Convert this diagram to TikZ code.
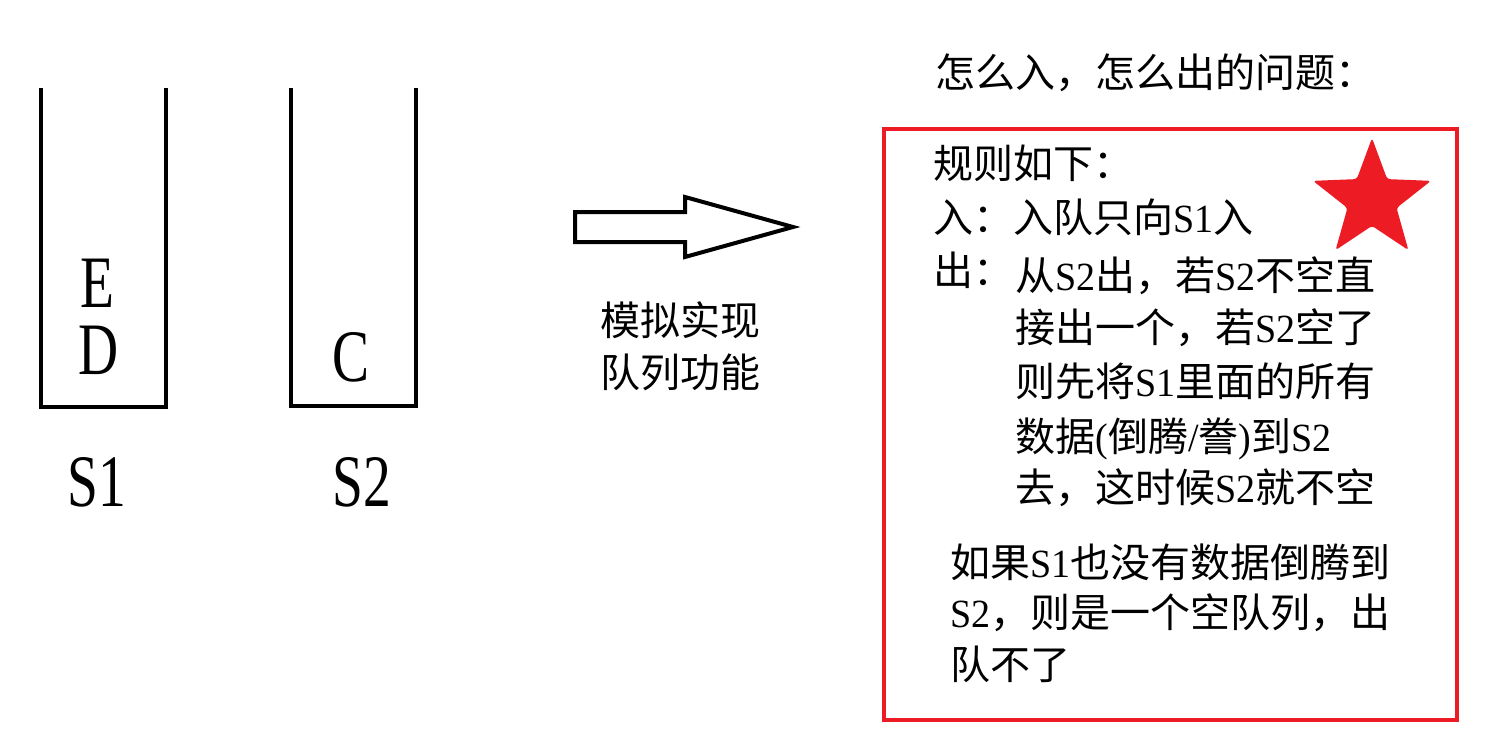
\documentclass[tikz,border=0pt]{standalone}
\usepackage{fontspec}
\setmainfont{Noto Sans CJK SC}
\newfontfamily\bigfont[FakeStretch=0.75]{Liberation Serif}
\newfontfamily\enfont[FakeStretch=0.95]{Liberation Serif}
\newcommand{\en}[1]{{\enfont #1}}
\usetikzlibrary{shapes.geometric}
\definecolor{ink}{HTML}{000000}
\definecolor{rulered}{HTML}{ED1C24}

\begin{document}
\begin{tikzpicture}[x=0.5pt,y=-0.5pt,
    stackline/.style={draw=ink,line width=1.6pt},
    letter/.style={font=\fontsize{37pt}{40pt}\bigfont,inner sep=0pt},
    txt/.style={font=\fontsize{20pt}{24pt}\selectfont,inner sep=0pt,anchor=base west},
    mid/.style={txt,anchor=base}]
  \useasboundingbox (0,0) rectangle (1485,739);

  % the two stacks
  \draw[stackline] (41,88) |- (166,407) -- (166,88);
  \draw[stackline] (291,88) |- (416,406) -- (416,88);
  \node[letter] (e) at (97,283) {E};
  \node[letter] (d) at (99,350) {D};
  \node[letter] (c) at (351,357) {C};
  \node[letter] (s1) at (97,482) {S1};
  \node[letter] (s2) at (362,482) {S2};

  % block arrow and its caption
  \draw[draw=ink,line width=2pt,line join=miter]
    (575,212) -- (685,212) -- (685,197) -- (793,227) -- (685,257)
    -- (685,242) -- (575,242) -- cycle;
  \node[mid] (cap1) at (680,335) {模拟实现};
  \node[mid] (cap2) at (680,387) {队列功能};

  % rules
  \node[txt] (title) at (935,87) {怎么入，怎么出的问题：};
  \draw[draw=rulered,line width=2.4pt] (884,129) rectangle (1457,720);
  \node[star,star points=5,star point ratio=2.4,fill=rulered,
        minimum size=62pt,inner sep=0pt,rounded corners=1.5pt] (mark) at (1372,200) {};
  \node[txt] (head) at (933,178) {规则如下：};
  \node[txt] (in) at (933,232) {入：入队只向\en{S1}入};
  \node[txt] (out) at (933,285) {出：};
  \node[txt] (o1) at (1015,290) {从\en{S2}出，若\en{S2}不空直};
  \node[txt] (o2) at (1015,342) {接出一个，若\en{S2}空了};
  \node[txt] (o3) at (1015,396) {则先将\en{S1}里面的所有};
  \node[txt] (o4) at (1015,451) {数据\en{(}倒腾\en{/}誊\en{)}到\en{S2}};
  \node[txt] (o5) at (1015,502) {去，这时候\en{S2}就不空};
  \node[txt] (n1) at (950,577) {如果\en{S1}也没有数据倒腾到};
  \node[txt] (n2) at (950,627) {\en{S2}，则是一个空队列，出};
  \node[txt] (n3) at (950,679) {队不了};
\end{tikzpicture}
\end{document}
